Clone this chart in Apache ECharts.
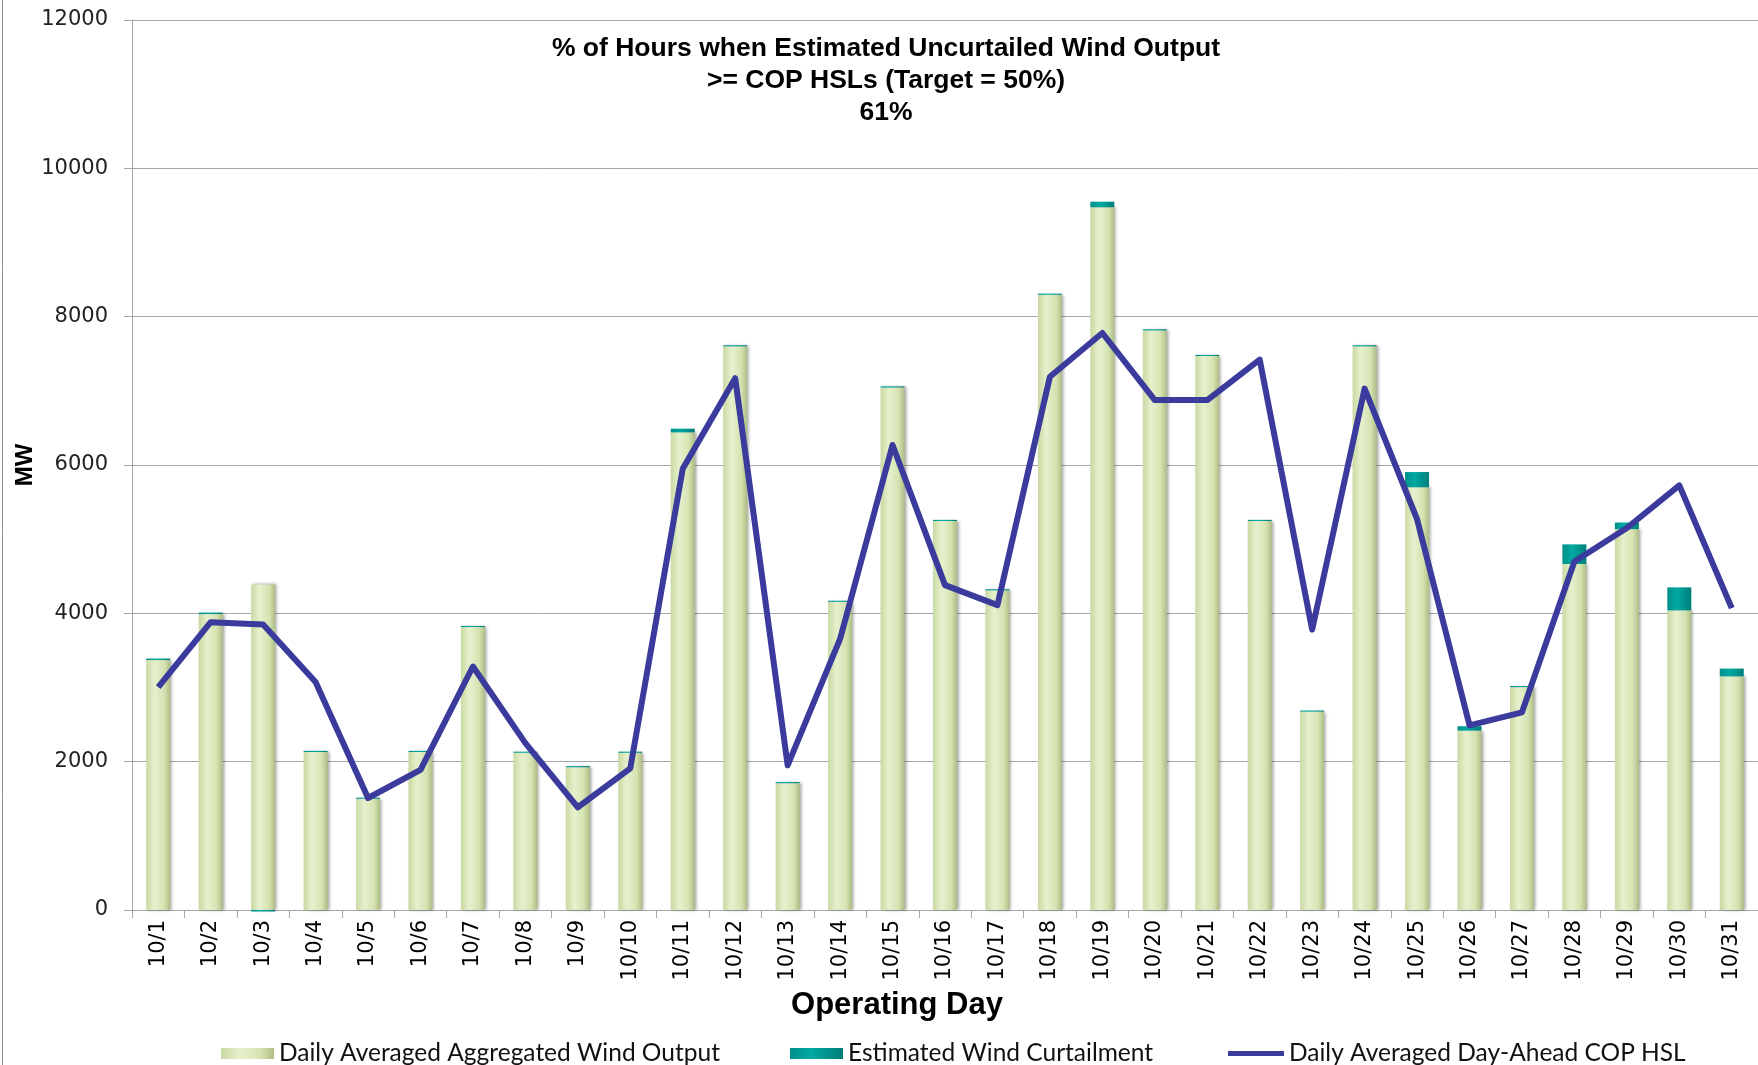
<!DOCTYPE html>
<html>
<head>
<meta charset="utf-8">
<script src="https://cdn.jsdelivr.net/npm/echarts@6/dist/echarts.min.js"></script>
<style>
  html, body { margin: 0; padding: 0; background: #fff; }
  #myChart0 { width: 1758px; height: 1065px; }
</style>
</head>
<body>
<div id="myChart0"></div>
<script>
// operating days
var days = ['10/1', '10/2', '10/3', '10/4', '10/5', '10/6', '10/7', '10/8', '10/9', '10/10',
  '10/11', '10/12', '10/13', '10/14', '10/15', '10/16', '10/17', '10/18', '10/19', '10/20',
  '10/21', '10/22', '10/23', '10/24', '10/25', '10/26', '10/27', '10/28', '10/29', '10/30', '10/31']

// MW values
var windOutput = [3370, 3990, 4390, 2130, 1500, 2130, 3815, 2120, 1925, 2120,
  6440, 7600, 1710, 4155, 7045, 5245, 4310, 8295, 9475, 7815,
  7470, 5245, 2675, 7600, 5700, 2418, 3005, 4665, 5135, 4040, 3150]
var curtailment = [20, 20, -20, 15, 15, 15, 15, 15, 15, 15,
  50, 15, 15, 15, 15, 15, 15, 15, 75, 15,
  15, 15, 15, 15, 205, 60, 15, 265, 90, 310, 105]
var copHsl = [3005, 3880, 3850, 3075, 1510, 1890, 3283, 2250, 1385, 1910,
  5950, 7170, 1950, 3655, 6270, 4380, 4110, 7190, 7780, 6876,
  6876, 7420, 3780, 7030, 5270, 2490, 2665, 4700, 5150, 5725, 4070]

var yTicks = { min: 0, max: 12000, interval: 2000 }

var seriesNames = ['Daily Averaged Aggregated Wind Output', 'Estimated Wind Curtailment', 'Daily Averaged Day-Ahead COP HSL']

var greenFill = new echarts.graphic.LinearGradient(0, 0, 1, 0, [
  { offset: 0, color: '#c9d9a2' },
  { offset: 0.35, color: '#e6f1cd' },
  { offset: 0.75, color: '#d5e3b2' },
  { offset: 1, color: '#aebd85' }
])
var tealFill = new echarts.graphic.LinearGradient(0, 0, 1, 0, [
  { offset: 0, color: '#008f8a' },
  { offset: 0.4, color: '#00aaa3' },
  { offset: 1, color: '#007d78' }
])
var lineColor = '#3a3b9c'

var myChart = echarts.init(document.getElementById('myChart0'))
var legendBase = {
  top: 1041,
  padding: 0,
  itemWidth: 53,
  itemHeight: 11,
  itemGap: 4,
  textStyle: { fontFamily: 'Lato', fontSize: 24.5, color: '#111' }
}
myChart.setOption({
  animation: false,
  backgroundColor: '#fff',
  grid: { left: 132, top: 20, width: 1632, height: 890 },
  legend: [
    Object.assign({}, legendBase, { left: 221, data: [{ name: seriesNames[0], icon: 'rect' }] }),
    Object.assign({}, legendBase, { left: 790, data: [{ name: seriesNames[1], icon: 'rect' }] }),
    Object.assign({}, legendBase, { left: 1228, itemWidth: 56, itemHeight: 5, data: [{ name: seriesNames[2], icon: 'rect' }] })
  ],
  graphic: [
    {
      type: 'text', x: 886, y: 33,
      style: {
        text: '% of Hours when Estimated Uncurtailed Wind Output\n>= COP HSLs (Target = 50%)\n61%',
        fontFamily: 'Liberation Sans', fontWeight: 'bold', fontSize: 26.5, lineHeight: 32,
        textAlign: 'center', fill: '#000'
      }
    },
    {
      type: 'text', x: 897, y: 1005,
      style: {
        text: 'Operating Day', fontFamily: 'Liberation Sans', fontWeight: 'bold', fontSize: 31,
        textAlign: 'center', textVerticalAlign: 'middle', fill: '#000'
      }
    },
    {
      type: 'line', shape: { x1: 2.5, y1: 0, x2: 2.5, y2: 1065 },
      style: { stroke: '#8c8c8c', lineWidth: 1 }
    }
  ],
  xAxis: {
    type: 'category',
    data: days,
    axisLine: { lineStyle: { color: '#a6a6a6', width: 1 } },
    axisTick: { show: true, length: 8, lineStyle: { color: '#a6a6a6' } },
    axisLabel: { rotate: 90, margin: 10, fontFamily: 'DejaVu Sans', fontSize: 21, color: '#000', interval: 0 }
  },
  yAxis: {
    type: 'value',
    min: yTicks.min, max: yTicks.max, interval: yTicks.interval,
    name: 'MW',
    nameLocation: 'middle',
    nameGap: 95,
    nameMoveOverlap: false,
    nameRotate: 90,
    nameTextStyle: { fontFamily: 'Liberation Sans', fontWeight: 'bold', fontSize: 24, color: '#000' },
    axisLine: { show: true, lineStyle: { color: '#a6a6a6', width: 1 } },
    axisTick: { show: true, length: 8, lineStyle: { color: '#a6a6a6' } },
    axisLabel: {
      margin: 24, fontFamily: 'DejaVu Sans', fontSize: 21, color: '#222',
      formatter: function (v) { return String(v) }
    },
    splitLine: { lineStyle: { color: '#a6a6a6', width: 1 } }
  },
  series: [
    {
      name: seriesNames[0],
      type: 'bar',
      stack: 'mw',
      barWidth: 24,
      data: windOutput,
      itemStyle: {
        color: greenFill,
        shadowColor: 'rgba(0,0,0,0.35)', shadowBlur: 3, shadowOffsetX: 2
      }
    },
    {
      name: seriesNames[1],
      type: 'bar',
      stack: 'mw',
      barWidth: 24,
      clip: false,
      data: curtailment,
      itemStyle: { color: tealFill }
    },
    {
      name: seriesNames[2],
      type: 'line',
      data: copHsl,
      symbol: 'none',
      z: 5,
      lineStyle: { color: lineColor, width: 6, join: 'round' },
      itemStyle: { color: lineColor }
    }
  ]
})
</script>
</body>
</html>
